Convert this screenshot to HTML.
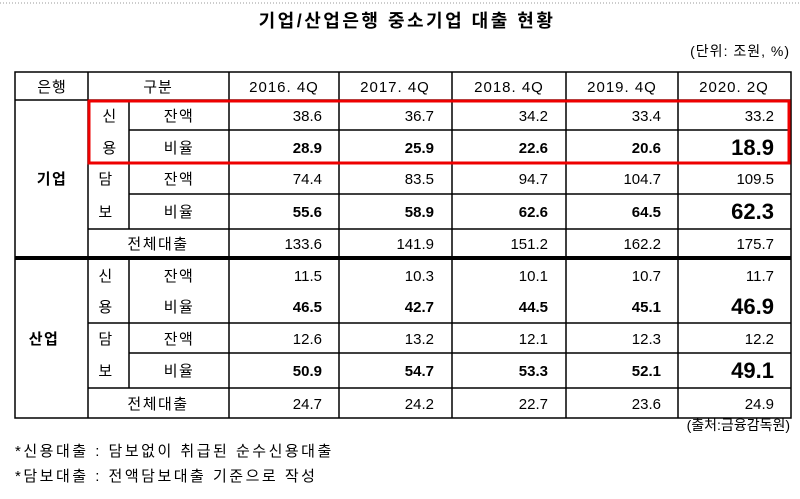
<!DOCTYPE html>
<html><head><meta charset="utf-8"><style>
body{margin:0;background:#fff;width:800px;height:494px;overflow:hidden}
svg{font-family:"Liberation Sans","Noto Sans CJK KR","NanumGothic",sans-serif}
</style></head><body>
<svg width="800" height="494" viewBox="0 0 800 494">
<line x1="0" y1="3" x2="800" y2="3" stroke="#999" stroke-dasharray="1,2"/>
<text x="407" y="27" text-anchor="middle" font-size="18" font-weight="bold" letter-spacing="2.5">기업/산업은행 중소기업 대출 현황</text>
<text x="790" y="56" text-anchor="end" font-size="14" letter-spacing="1">(단위: 조원, %)</text>
<g stroke="#000" stroke-width="1.5">
<rect x="15" y="72" width="776" height="346" fill="none"/>
<line x1="15" y1="100" x2="791" y2="100"/>
<line x1="88" y1="72" x2="88" y2="418"/>
<line x1="229" y1="72" x2="229" y2="418"/>
<line x1="339" y1="72" x2="339" y2="418"/>
<line x1="452" y1="72" x2="452" y2="418"/>
<line x1="566" y1="72" x2="566" y2="418"/>
<line x1="678" y1="72" x2="678" y2="418"/>
<line x1="129" y1="100" x2="129" y2="229"/>
<line x1="129" y1="258" x2="129" y2="388"/>
<line x1="129" y1="130" x2="791" y2="130"/>
<line x1="88" y1="163" x2="791" y2="163"/>
<line x1="129" y1="194" x2="791" y2="194"/>
<line x1="88" y1="229" x2="791" y2="229"/>
<line x1="15" y1="258" x2="791" y2="258" stroke-width="4"/>
<line x1="88" y1="323" x2="791" y2="323"/>
<line x1="129" y1="353" x2="791" y2="353"/>
<line x1="88" y1="388" x2="791" y2="388"/>
</g>
<rect x="89" y="101" width="700" height="62" fill="none" stroke="#e00" stroke-width="3"/>
<g font-size="15" text-anchor="middle" letter-spacing="1">
<text x="52" y="92">은행</text><text x="158" y="92">구분</text>
<text x="284" y="92">2016. 4Q</text><text x="395" y="92">2017. 4Q</text><text x="509" y="92">2018. 4Q</text><text x="622" y="92">2019. 4Q</text><text x="734" y="92">2020. 2Q</text>
</g>
<g font-size="15" text-anchor="middle" letter-spacing="1.5">
<text x="52" y="184" font-weight="bold">기업</text>
<text x="44" y="344" font-weight="bold">산업</text>
<text x="110" y="121">신</text><text x="110" y="153">용</text>
<text x="106" y="184">담</text><text x="106" y="217">보</text>
<text x="106" y="281">신</text><text x="106" y="312">용</text>
<text x="106" y="344">담</text><text x="106" y="376">보</text>
<text x="179" y="121">잔액</text><text x="179" y="153">비율</text>
<text x="179" y="184">잔액</text><text x="179" y="217">비율</text>
<text x="158" y="249">전체대출</text>
<text x="179" y="281">잔액</text><text x="179" y="312">비율</text>
<text x="179" y="344">잔액</text><text x="179" y="376">비율</text>
<text x="158" y="409">전체대출</text>
</g>
<g font-size="15" text-anchor="end">
<text x="322" y="121">38.6</text><text x="434" y="121">36.7</text><text x="548" y="121">34.2</text><text x="661" y="121">33.4</text><text x="774" y="121">33.2</text>
<g font-weight="bold"><text x="322" y="153">28.9</text><text x="434" y="153">25.9</text><text x="548" y="153">22.6</text><text x="661" y="153">20.6</text><text x="774" y="155" font-size="22">18.9</text></g>
<text x="322" y="184">74.4</text><text x="434" y="184">83.5</text><text x="548" y="184">94.7</text><text x="661" y="184">104.7</text><text x="774" y="184">109.5</text>
<g font-weight="bold"><text x="322" y="217">55.6</text><text x="434" y="217">58.9</text><text x="548" y="217">62.6</text><text x="661" y="217">64.5</text><text x="774" y="219" font-size="22">62.3</text></g>
<text x="322" y="249">133.6</text><text x="434" y="249">141.9</text><text x="548" y="249">151.2</text><text x="661" y="249">162.2</text><text x="774" y="249">175.7</text>
<text x="322" y="281">11.5</text><text x="434" y="281">10.3</text><text x="548" y="281">10.1</text><text x="661" y="281">10.7</text><text x="774" y="281">11.7</text>
<g font-weight="bold"><text x="322" y="312">46.5</text><text x="434" y="312">42.7</text><text x="548" y="312">44.5</text><text x="661" y="312">45.1</text><text x="774" y="314" font-size="22">46.9</text></g>
<text x="322" y="344">12.6</text><text x="434" y="344">13.2</text><text x="548" y="344">12.1</text><text x="661" y="344">12.3</text><text x="774" y="344">12.2</text>
<g font-weight="bold"><text x="322" y="376">50.9</text><text x="434" y="376">54.7</text><text x="548" y="376">53.3</text><text x="661" y="376">52.1</text><text x="774" y="378" font-size="22">49.1</text></g>
<text x="322" y="409">24.7</text><text x="434" y="409">24.2</text><text x="548" y="409">22.7</text><text x="661" y="409">23.6</text><text x="774" y="409">24.9</text>
</g>
<text x="790" y="430" text-anchor="end" font-size="14">(출처:금융감독원)</text>
<text x="15" y="456" font-size="15" letter-spacing="2.5">*신용대출 : 담보없이 취급된 순수신용대출</text>
<text x="15" y="481" font-size="15" letter-spacing="2.5">*담보대출 : 전액담보대출 기준으로 작성</text>
</svg>
</body></html>
